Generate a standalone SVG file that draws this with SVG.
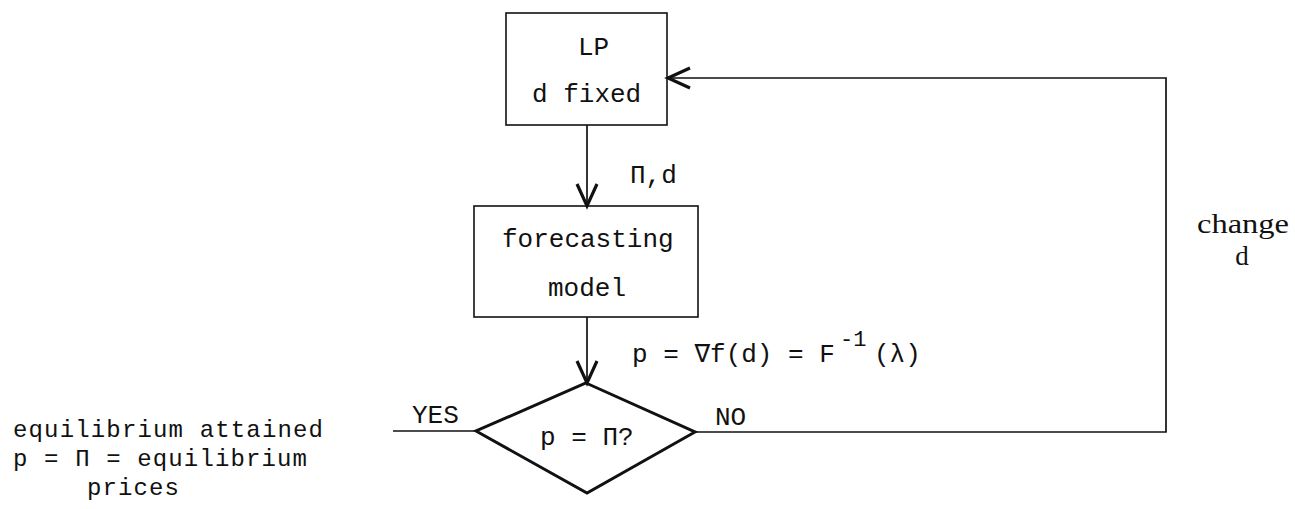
<svg xmlns="http://www.w3.org/2000/svg" width="1295" height="509" viewBox="0 0 1295 509">
<style>
.bg{fill:#fff}
.box{fill:none;stroke:#111;stroke-width:1.6}
.dia{fill:none;stroke:#111;stroke-width:3;stroke-linejoin:miter}
.ln{fill:none;stroke:#111;stroke-width:1.7}
.t{font-family:"Liberation Mono","DejaVu Sans Mono",monospace;font-size:26px;fill:#111}
.r{font-family:"Liberation Mono","DejaVu Sans Mono",monospace;font-size:24px;fill:#111}
.s{font-family:"Liberation Serif","DejaVu Serif",serif;font-size:27px;fill:#111}
.sup{font-size:22px}
</style>
<defs>
<marker id="ah" markerUnits="userSpaceOnUse" markerWidth="30" markerHeight="30" viewBox="-26 -13 30 26" refX="0" refY="0" orient="auto">
<path d="M-22,-10 L0,0 L-22,10" fill="none" stroke="#111" stroke-width="3.2" stroke-linejoin="miter"/>
</marker>
</defs>
<rect class="bg" x="0" y="0" width="1295" height="509"/>
<g id="connectors">
<path class="ln" d="M587,125 L587,206" marker-end="url(#ah)"/>
<path class="ln" d="M587,317 L587,383" marker-end="url(#ah)"/>
<path class="ln" d="M695,432 L1166,432 L1166,78 L668,78" marker-end="url(#ah)"/>
<path class="ln" d="M476,431 L393,431"/>
<text class="t" x="630" y="183">Π,d</text>
<text class="t" x="632" y="362">p = ∇f(d) = F</text>
<text class="t sup" x="840" y="346">-1</text>
<text class="t" x="874" y="362">(λ)</text>
<text class="t" x="412" y="423">YES</text>
<text class="t" x="715" y="425">NO</text>
<text class="s" x="1197" y="233" textLength="92" lengthAdjust="spacingAndGlyphs">change</text>
<text class="s" x="1242" y="265" text-anchor="middle">d</text>
</g>
<g id="lp">
<rect class="box" x="506" y="13" width="161" height="112"/>
<text class="t" x="578" y="55">LP</text>
<text class="t" x="532" y="102">d fixed</text>
</g>
<g id="forecasting">
<rect class="box" x="474" y="206" width="224" height="111"/>
<text class="t" x="502" y="247">forecasting</text>
<text class="t" x="548" y="296">model</text>
</g>
<g id="decision">
<path class="dia" d="M586,383 L695,432 L587,493 L476,431 Z"/>
<text class="t" x="540" y="445">p = Π?</text>
</g>
<g id="result">
<text class="r" x="13" y="437" textLength="310" lengthAdjust="spacing">equilibrium attained</text>
<text class="r" x="13" y="466" textLength="294" lengthAdjust="spacing">p = Π = equilibrium</text>
<text class="r" x="87" y="495" textLength="92" lengthAdjust="spacing">prices</text>
</g>
</svg>
